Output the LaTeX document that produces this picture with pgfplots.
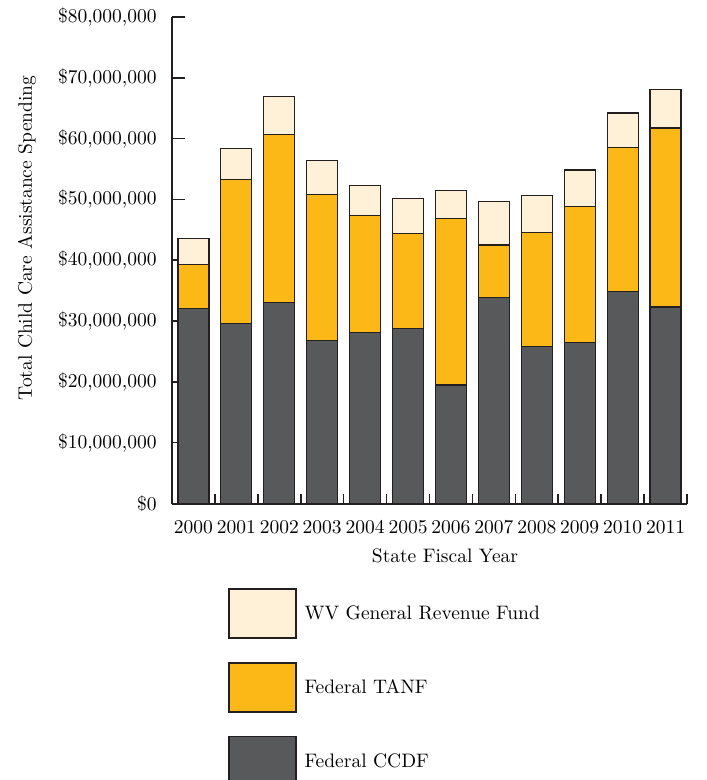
\documentclass[border=0pt]{standalone}
\usepackage{pgfplots}
\pgfplotsset{compat=1.18}
\definecolor{grf}{HTML}{FFF0D8}
\definecolor{tanf}{HTML}{FCB816}
\definecolor{ccdf}{HTML}{58595B}
\definecolor{edge}{HTML}{231F20}
\pgfplotsset{myleg/.style={legend image code/.code={\draw[##1] (0pt,-9.25pt) rectangle (33.5pt,15.25pt);}}}
\begin{document}
\begin{tikzpicture}[font=\fontsize{9.75}{11.7}\selectfont]
\begin{axis}[
  at={(0pt,0pt)}, anchor=south west,
  scale only axis, width=257.5pt, height=243.25pt,
  ybar stacked, bar width=15.5pt,
  xmin=-0.5, xmax=11.5, ymin=0, ymax=80,
  axis x line*=bottom, axis y line*=left,
  axis line style={line width=1pt, edge},
  tick align=inside,
  xtick={0,...,11},
  xticklabels={2000,2001,2002,2003,2004,2005,2006,2007,2008,2009,2010,2011},
  minor xtick={-0.5,0.5,...,11.5},
  major x tick style={draw=none},
  minor tick length=5pt, major tick length=6.5pt,
  tick style={line width=0.8pt, edge},
  ytick={0,10,...,80},
  yticklabels={\$0,\$10{,}000{,}000,\$20{,}000{,}000,\$30{,}000{,}000,\$40{,}000{,}000,\$50{,}000{,}000,\$60{,}000{,}000,\$70{,}000{,}000,\$80{,}000{,}000},
  xticklabel style={inner sep=0pt, anchor=north, yshift=-8.25pt},
  yticklabel style={inner sep=0pt, anchor=east, xshift=-7.5pt},
  xlabel={State Fiscal Year},
  ylabel={Total Child Care Assistance Spending},
  xlabel style={at={(axis description cs:0.5301,-0.1223)}, anchor=base, inner sep=0pt},
  ylabel style={at={(axis description cs:-0.2816,0.5457)}, anchor=center, inner sep=0pt},
  legend style={at={(axis description cs:0.1087,-0.1737)}, anchor=north west,
    draw=none, fill=none, inner sep=0pt, /tikz/row sep=11.85pt, /tikz/column sep=4pt,
    nodes={inner sep=0pt, anchor=base west}},
  reverse legend, legend cell align=left,
]
\addplot[fill=ccdf, draw=edge, line width=0.6pt, myleg]
  coordinates {(0,32.0) (1,29.6) (2,33.05) (3,26.85) (4,28.1) (5,28.8) (6,19.5) (7,33.9) (8,25.8) (9,26.5) (10,34.9) (11,32.3)};
\addlegendentry{Federal CCDF}
\addplot[fill=tanf, draw=edge, line width=0.6pt, myleg]
  coordinates {(0,7.3) (1,23.65) (2,27.65) (3,24.0) (4,19.2) (5,15.6) (6,27.4) (7,8.6) (8,18.8) (9,22.3) (10,23.7) (11,29.45)};
\addlegendentry{Federal TANF}
\addplot[fill=grf, draw=edge, line width=0.6pt, myleg]
  coordinates {(0,4.3) (1,5.15) (2,6.2) (3,5.55) (4,5.0) (5,5.8) (6,4.6) (7,7.2) (8,6.0) (9,6.05) (10,5.6) (11,6.35)};
\addlegendentry{WV General Revenue Fund}
\end{axis}
\pgfresetboundingbox
\useasboundingbox (-86pt,-138.25pt) rectangle (267pt,251.75pt);
\end{tikzpicture}
\end{document}
